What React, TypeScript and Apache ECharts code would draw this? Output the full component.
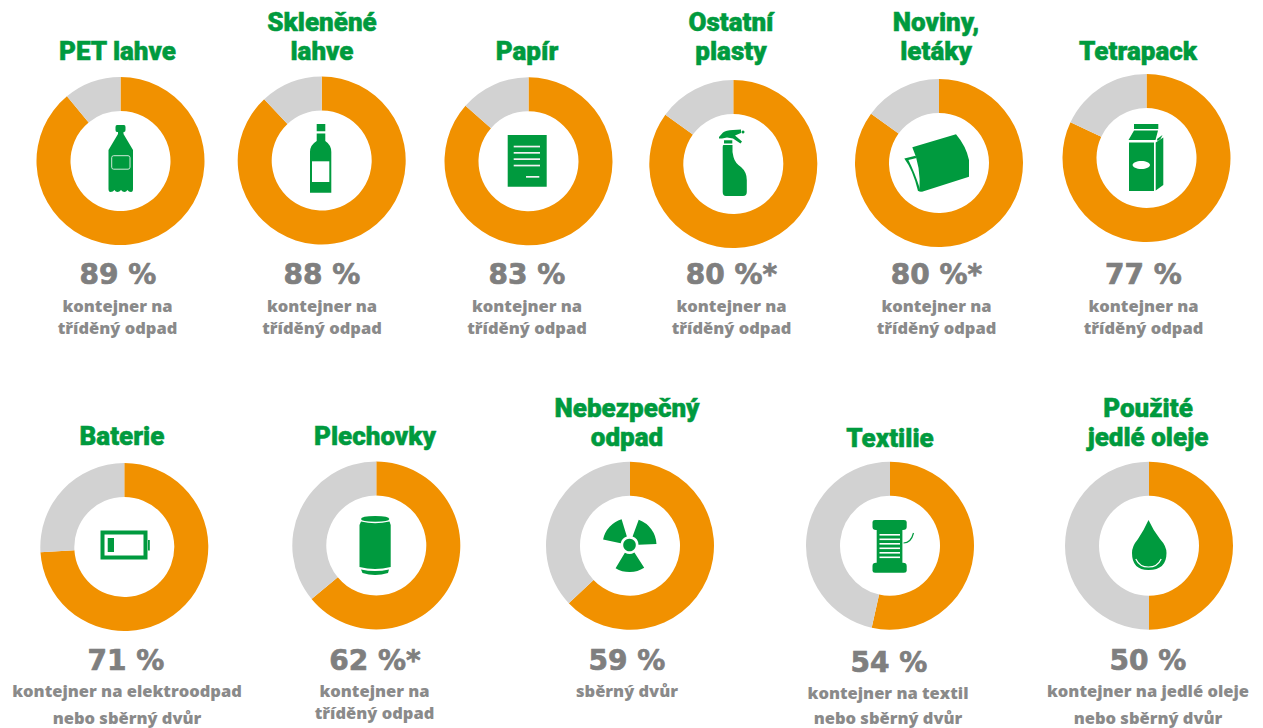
import React, { useEffect, useRef } from "react";
import * as echarts from "echarts";

const titles = [["PET lahve"], ["Skleněné", "lahve"], ["Papír"], ["Ostatní", "plasty"], ["Noviny,", "letáky"], ["Tetrapack"], ["Baterie"], ["Plechovky"], ["Nebezpečný", "odpad"], ["Textilie"], ["Použité", "jedlé oleje"]];
const percentLabels = ["89 %", "88 %", "83 %", "80 %*", "80 %*", "77 %", "71 %", "62 %*", "59 %", "54 %", "50 %"];
const captions = [
  ["kontejner na", "tříděný odpad"], ["kontejner na", "tříděný odpad"], ["kontejner na", "tříděný odpad"],
  ["kontejner na", "tříděný odpad"], ["kontejner na", "tříděný odpad"], ["kontejner na", "tříděný odpad"],
  ["kontejner na elektroodpad", "nebo sběrný dvůr"], ["kontejner na", "tříděný odpad"], ["sběrný dvůr"],
  ["kontejner na textil", "nebo sběrný dvůr"], ["kontejner na jedlé oleje", "nebo sběrný dvůr"],
];
// orange share of each ring, as drawn in the picture
const orangeValues = [89, 88, 86.5, 85, 85, 82, 74, 64, 63, 53.5, 50];

const ringCenters = [[120.5, 161], [321.7, 160.5], [528.5, 161.3], [733.3, 164], [939, 163], [1146.5, 158], [124.3, 547], [376.3, 545.5], [630, 545.7], [890, 545.7], [1149, 545.7]];
const titleX = [117.5, 322, 527, 731, 936, 1138, 122, 375, 627, 890, 1148];
const titleYs = [[50.5], [22, 50.5], [50.5], [22, 50.5], [22, 50.5], [50.5], [435.5], [435.5], [407.5, 436.5], [437.5], [407.5, 436.5]];
const percentX = [118, 322, 527, 731.5, 936.5, 1143.5, 126, 375, 627, 889, 1148];
const percentY = [274, 274, 274, 274, 274, 274, 660, 660, 660, 662, 660];
const captionX = [117.5, 322, 527, 731.5, 936.5, 1143.5, 127, 374.5, 627, 888, 1148];
const captionYs = [[305.5, 327.5], [305.5, 327.5], [305.5, 327.5], [305.5, 327.5], [305.5, 327.5], [305.5, 327.5], [690.5, 717], [690.5, 712.5], [690.5], [692.5, 717.5], [690.5, 717]];

const GREEN = "#009a3e";
const ORANGE = "#f19100";
const LIGHT = "#d2d2d2";

const shapes: Record<string, string> = {
  petBottle: "M117 125 H124 Q125.5 125 125.5 127 V130 Q125.5 132 124 132 H123.5 V134 L133 150 V189 Q133 192 131 192 Q128.5 192 127.5 190 Q126 192 124.5 192 Q122.5 192 121 190 Q119.5 192 117.5 192 Q115.5 192 114.5 190 Q113 192 110.5 192 Q108.5 192 108.5 189 V150 L118 134 V132 H117 Q115.5 132 115.5 130 V127 Q115.5 125 117 125 Z",
  glassBottle: "M316.7 133.5 H325.3 V141 Q331.3 145 331.3 152 V192.7 H310 V152 Q310 145 316.7 141 Z M316.7 124 H325.3 V131.2 H316.7 Z",
  sprayHead: "M719 137 L723 132.5 Q726 130 733 130 L741 129.5 L741 133 L735 135.5 L742 141.5 L740.5 143.5 L733 138.5 L727 137.5 L722 138.5 L719 138.5 Z",
  sprayBody: "M724 140.3 H732.3 V143.5 H724 Z M723.5 145 H732.5 Q732 152 733.5 157 Q735 163 741 167 Q746.8 172 746.8 180 V192 Q746.8 196 743 196 H726 Q722.7 196 722.7 192 V147 Q722.7 145 723.5 145 Z",
  paperFront: "M912.3 147.3 L956 134.3 Q966 146 969 160 L969 176.7 L922 191.7 L919.5 191.5 Q921 166 912.3 147.3 Z",
  paperBack: "M904.3 158.5 L915.5 155.8 L916.6 158 L908.4 160 Q914.5 172 919.5 187.5 L920.5 191.5 L918 191 Q913 170 904.3 158.5 Z",
  carton: "M1134 124 H1158.3 V129 H1134 Z M1134 130.5 H1158 L1155.5 140 H1128.5 Z M1129 142.5 H1154 V191 H1129 Z M1155.7 142.5 L1163.3 137.5 V185 L1155.7 190.5 Z M1157 139 L1162.5 135 L1160.5 139 L1157.5 141 Z",
  canTop: "M361 519 Q361 516 375.2 516 Q389.3 516 389.3 519 Q389.3 521.8 375.2 521.8 Q361 521.8 361 519 Z",
  canBody: "M361 521.5 Q375 525 389.5 521.5 L390.7 525 V567 Q375 571 359.5 567 V525 Z",
  canFoot: "M361 569.5 Q375 572.5 389 569.5 L388 573 Q375 577 362.5 573 Z",
  spool: "M875 520 H904 Q906.7 520 906.7 522 V527 Q906.7 530 903 530 H902.4 V562.7 H903 Q906.7 562.7 906.7 566 V570.7 Q906.7 572.7 904 572.7 H875 Q872.5 572.7 872.5 570.7 V566 Q872.5 562.7 876 562.7 H876.7 V530 H876 Q872.5 530 872.5 527 V522 Q872.5 520 875 520 Z",
  drop: "M1148.5 520 Q1153 530 1160 539 Q1166.5 546 1166.5 553 Q1166.5 570 1148.5 570 Q1132 570 1132 553 Q1132 546 1138 539 Q1144 530 1148.5 520 Z",
};
Object.keys(shapes).forEach((k) => echarts.graphic.registerShape(k, echarts.graphic.extendPath(shapes[k], {})));

const shape = (type: string, fill = GREEN) => ({ type, x: 0, y: 0, silent: true, style: { fill } });
const box = (x: number, y: number, width: number, height: number, fill = GREEN) => ({ type: "rect", silent: true, shape: { x, y, width, height }, style: { fill } });
const rad = (d: number) => (d * Math.PI) / 180;
const sector = (a: number, b: number) => ({ type: "sector", silent: true, shape: { cx: 629.5, cy: 545, r: 27, r0: 9, startAngle: rad(a), endAngle: rad(b), clockwise: true }, style: { fill: GREEN } });

const stripes = [534, 538.5, 543, 547.5, 552, 556.5].map((y) => box(879.5, y, 20.5, 1.6, "#fff"));
const paperLines = [145.7, 152, 158.3, 164.7].map((y) => box(513.7, y, 26.3, 1.7, "#f2f2f2"));

const icons: any[] = [
  shape("petBottle"),
  { type: "rect", silent: true, shape: { x: 111.7, y: 155.7, width: 18.3, height: 13.5, r: 2 }, style: { fill: "none", stroke: "#cfe9d8", lineWidth: 1 } },
  shape("glassBottle"), box(312, 161.3, 17.3, 20.7, "#fff"),
  box(507.7, 135, 39, 51.7), ...paperLines, box(526, 176, 13.3, 1.7, "#f2f2f2"),
  shape("sprayHead"), shape("sprayBody"),
  { type: "circle", silent: true, shape: { cx: 743, cy: 132, r: 1.5 }, style: { fill: GREEN } },
  shape("paperBack"), shape("paperFront"),
  shape("carton"),
  { type: "ellipse", silent: true, shape: { cx: 1141.3, cy: 165, rx: 8.7, ry: 4 }, style: { fill: "#fff" } },
  { type: "rect", silent: true, shape: { x: 102.5, y: 532.5, width: 43, height: 25 }, style: { fill: "none", stroke: GREEN, lineWidth: 4 } },
  box(107.7, 538, 6.3, 14), box(148, 540, 1.8, 10.5),
  shape("canTop"), shape("canBody"), shape("canFoot"),
  sector(57, 121), sector(192, 253), sector(290, 358),
  { type: "circle", silent: true, shape: { cx: 629.5, cy: 545, r: 6.3 }, style: { fill: GREEN } },
  shape("spool"), ...stripes,
  { type: "bezierCurve", silent: true, shape: { x1: 903.5, y1: 543, x2: 913.5, y2: 533, cpx1: 909, cpy1: 543, cpx2: 912, cpy2: 539 }, style: { stroke: GREEN, lineWidth: 1.2, fill: "none" } },
  shape("drop"),
  { type: "arc", silent: true, shape: { cx: 1148.5, cy: 553, r: 14, startAngle: rad(25), endAngle: rad(155), clockwise: true }, style: { stroke: "#fff", lineWidth: 1.2, fill: "none" } },
];

const text = (t: string, x: number, y: number, fontSize: number, fill: string, fontFamily: string, fontWeight: any, thicken = 0) => ({
  type: "text", silent: true, x, y,
  style: { text: t, fontSize, fill, fontFamily, fontWeight, align: "center", verticalAlign: "middle", stroke: thicken ? fill : "none", lineWidth: thicken },
});

export default function App() {
  const ref = useRef<HTMLDivElement>(null);
  useEffect(() => {
    document.body.style.margin = "0";
    const chart = echarts.init(ref.current!, null, { renderer: "svg" });
    const texts: any[] = [];
    titles.forEach((lines, i) => lines.forEach((l, j) => texts.push(text(l, titleX[i], titleYs[i][j], 26, GREEN, "Roboto", 900, 0.5))));
    percentLabels.forEach((p, i) => texts.push(text(p, percentX[i], percentY[i], 28, "#7f7f7f", "DejaVu Sans", 700, 0.7)));
    captions.forEach((lines, i) => lines.forEach((l, j) => texts.push(text(l, captionX[i], captionYs[i][j], 16.5, "#8a8a8a", "Open Sans", 800))));
    chart.setOption({
      animation: false,
      tooltip: { show: false },
      series: orangeValues.map((v, i) => ({
        type: "pie",
        center: ringCenters[i],
        radius: [50, 84],
        startAngle: 90,
        silent: true,
        label: { show: false },
        labelLine: { show: false },
        data: [
          { name: titles[i].join(" "), value: v, itemStyle: { color: ORANGE } },
          { name: "zbytek", value: 100 - v, itemStyle: { color: LIGHT } },
        ],
      })),
      graphic: { elements: [...icons, ...texts] },
    });
    return () => chart.dispose();
  }, []);
  return <div ref={ref} style={{ position: "fixed", left: 0, top: 0, width: 1263, height: 728, background: "#fff" }} />;
}
